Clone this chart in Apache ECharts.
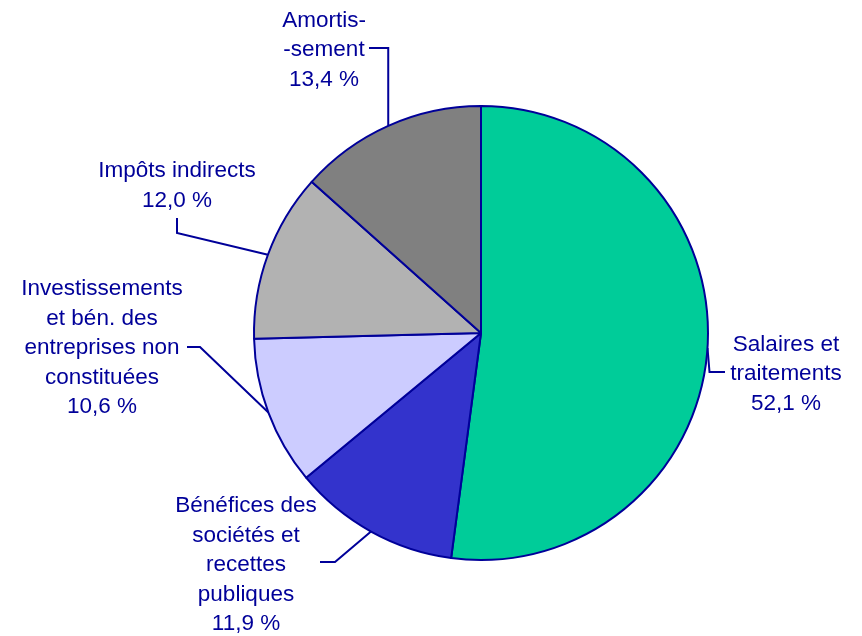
<!DOCTYPE html>
<html><head><meta charset="utf-8">
<script src="https://cdn.jsdelivr.net/npm/echarts@6/dist/echarts.min.js"></script>
<style>html,body{margin:0;padding:0;background:#fff}#c{width:862px;height:636px}</style>
</head><body><div id="c"></div>
<script>
const categories = ['Salaires et\ntraitements', 'Bénéfices des\nsociétés et\nrecettes\npubliques', 'Investissements\net bén. des\nentreprises non\nconstituées', 'Impôts indirects', 'Amortis-\n-sement'];
const values = [52.1, 11.9, 10.6, 12.0, 13.4];
const colors = ['#00CC99', '#3333CC', '#CCCCFF', '#B2B2B2', '#808080'];
// label block centres (px)
const labelCenters = [[786, 374], [246, 565], [102, 348], [177, 186], [324, 50]];
// leader line knee and end points (px); start is the slice edge given by the library
const leaderKnee = [[null, 372], [335, 562], [200, 347], [177, 233], [null, 48]];
const leaderEnd = [[725, 372], [320, 562], [187, 347], [177, 218], [369, 48]];

const fmt = v => v.toFixed(1).replace('.', ',') + ' %';
const chart = echarts.init(document.getElementById('c'), null, {renderer: 'canvas'});
chart.setOption({
  backgroundColor: '#ffffff',
  animation: false,
  series: [{
    type: 'pie',
    center: [481, 333],
    radius: 227,
    startAngle: 90,
    clockwise: true,
    avoidLabelOverlap: false,
    itemStyle: {borderColor: '#000099', borderWidth: 2},
    label: {
      show: true,
      position: 'outside',
      color: '#000099',
      fontFamily: 'Liberation Sans, Arial, sans-serif',
      fontSize: 22.5,
      lineHeight: 29.5,
      align: 'center',
      formatter: p => p.name + '\n' + fmt(p.value)
    },
    labelLine: {show: true, smooth: false, lineStyle: {color: '#000099', width: 2}},
    labelLayout: function (params) {
      const i = params.dataIndex;
      const p0 = params.labelLinePoints ? params.labelLinePoints[0] : null;
      const out = {x: labelCenters[i][0], y: labelCenters[i][1], align: 'center', verticalAlign: 'middle'};
      if (p0) {
        const k = leaderKnee[i];
        const kx = k[0] == null ? p0[0] + (i === 0 ? 2 : 0) : k[0];
        out.labelLinePoints = [[p0[0], p0[1]], [kx, k[1]], leaderEnd[i]];
      }
      return out;
    },
    emphasis: {disabled: true},
    data: categories.map((c, i) => ({name: c, value: values[i], itemStyle: {color: colors[i]}}))
  }]
});
</script></body></html>
